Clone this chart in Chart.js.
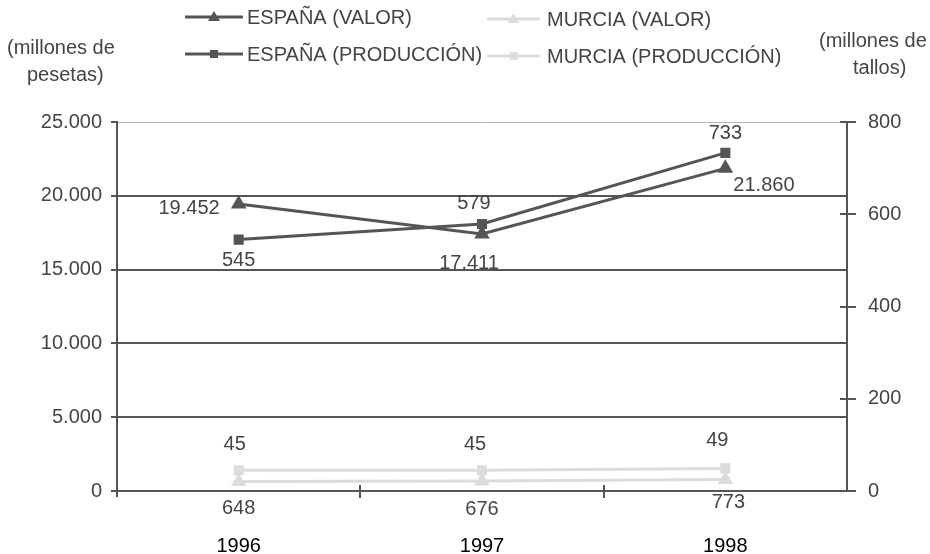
<!DOCTYPE html>
<html><head><meta charset="utf-8">
<script src="https://cdn.jsdelivr.net/npm/chart.js@4.4.0/dist/chart.umd.min.js"></script>
<style>html,body{margin:0;padding:0;background:#fff;}#wrap{width:930px;height:554px;position:relative;}</style>
</head><body><div id="wrap"><canvas id="c" width="930" height="554"></canvas></div>
<script>
const years = ['1996', '1997', '1998'];
const espanaValor = [19452, 17411, 21860];
const espanaProduccion = [545, 579, 733];
const murciaValor = [648, 676, 773];
const murciaProduccion = [45, 45, 49];
const leftTickValues = [0, 5000, 10000, 15000, 20000, 25000];
const rightTickValues = [0, 200, 400, 600, 800];
const seriesNames = ['ESPAÑA (VALOR)', 'ESPAÑA (PRODUCCIÓN)', 'MURCIA (VALOR)', 'MURCIA (PRODUCCIÓN)'];
const leftTitle = ['(millones de', 'pesetas)'];
const rightTitle = ['(millones de', 'tallos)'];

// label placement (dx, dy, align) per dataset/point — layout only
const labelPlacement = [
  [[-19, 3, 'right'], [-13, 28, 'center'], [8, 16, 'left']],
  [[0, 19, 'center'], [-8, -22, 'center'], [0, -21, 'center']],
  [[0, 26, 'center'], [0, 27, 'center'], [3, 21, 'center']],
  [[-4, -27, 'center'], [-7, -27, 'center'], [-8, -29, 'center']]
];

const FONT = "'Liberation Sans', Arial, sans-serif";
Chart.defaults.font.family = FONT;
Chart.defaults.font.size = 20;
Chart.defaults.color = '#444';

function fmt(v) { return String(v).replace(/\B(?=(\d{3})+(?!\d))/g, '.'); }

const DARK = '#555555';
const LIGHT = '#dcdcdc';

const extras = {
  id: 'extras',
  afterDraw(chart) {
    const ctx = chart.ctx;
    const ca = chart.chartArea;
    const x = chart.scales.x, y = chart.scales.y, y1 = chart.scales.y1;
    ctx.save();
    ctx.strokeStyle = DARK;
    ctx.lineWidth = 2;
    // left tick marks
    leftTickValues.forEach(v => {
      const py = Math.round(y.getPixelForValue(v));
      ctx.beginPath(); ctx.moveTo(ca.left - 6, py); ctx.lineTo(ca.left, py); ctx.stroke();
    });
    // right tick marks crossing
    rightTickValues.forEach(v => {
      const py = Math.round(y1.getPixelForValue(v));
      ctx.beginPath(); ctx.moveTo(ca.right - 7, py); ctx.lineTo(ca.right + 9, py); ctx.stroke();
    });
    // x tick marks between categories
    for (let i = 0; i < years.length - 1; i++) {
      const px = Math.round((x.getPixelForValue(i) + x.getPixelForValue(i + 1)) / 2);
      ctx.beginPath(); ctx.moveTo(px, ca.bottom - 6); ctx.lineTo(px, ca.bottom + 7); ctx.stroke();
    }
    ctx.beginPath(); ctx.moveTo(ca.left, ca.bottom - 4); ctx.lineTo(ca.left, ca.bottom + 6); ctx.stroke();

    // data labels
    ctx.font = '20px ' + FONT;
    ctx.fillStyle = '#444';
    ctx.textBaseline = 'alphabetic';
    chart.data.datasets.forEach((ds, di) => {
      const meta = chart.getDatasetMeta(di);
      meta.data.forEach((pt, i) => {
        const pl = labelPlacement[di][i];
        ctx.textAlign = pl[2];
        ctx.fillText(fmt(ds.data[i]), pt.x + pl[0], pt.y + pl[1] + 7);
      });
    });

    // axis titles
    ctx.textAlign = 'left';
    ctx.fillStyle = '#444';
    ctx.fillText(leftTitle[0], 7, 54);
    ctx.fillText(leftTitle[1], 27, 81);
    ctx.fillText(rightTitle[0], 819, 47);
    ctx.fillText(rightTitle[1], 853, 74);

    // legend
    const cols = [{x1: 185, x2: 243, tx: 247, ys: [17, 54]}, {x1: 487, x2: 540, tx: 547, ys: [19, 56]}];
    const order = [[0, 0, 0], [1, 0, 1], [2, 1, 0], [3, 1, 1]];
    order.forEach(([di, c, r]) => {
      const ds = chart.data.datasets[di];
      const col = cols[c];
      const ly = col.ys[r];
      ctx.strokeStyle = ds.borderColor;
      ctx.lineWidth = 3;
      ctx.beginPath(); ctx.moveTo(col.x1, ly); ctx.lineTo(col.x2, ly); ctx.stroke();
      const mx = (col.x1 + col.x2) / 2;
      ctx.fillStyle = ds.borderColor;
      if (ds.pointStyle === 'triangle') {
        ctx.beginPath(); ctx.moveTo(mx, ly - 6); ctx.lineTo(mx + 6, ly + 4); ctx.lineTo(mx - 6, ly + 4); ctx.closePath(); ctx.fill();
      } else {
        ctx.fillRect(mx - 4, ly - 4, 8, 8);
      }
      ctx.fillStyle = '#444';
      ctx.textAlign = 'left';
      ctx.fillText(seriesNames[di], col.tx, ly + 7);
    });
    ctx.restore();
  }
};

new Chart(document.getElementById('c'), {
  type: 'line',
  data: {
    labels: years,
    datasets: [
      {label: seriesNames[0], data: espanaValor, yAxisID: 'y', borderColor: DARK, backgroundColor: DARK,
       pointStyle: 'triangle', pointRadius: 6, borderWidth: 3, tension: 0},
      {label: seriesNames[1], data: espanaProduccion, yAxisID: 'y1', borderColor: DARK, backgroundColor: DARK,
       pointStyle: 'rect', pointRadius: 5, borderWidth: 3, tension: 0},
      {label: seriesNames[2], data: murciaValor, yAxisID: 'y', borderColor: LIGHT, backgroundColor: LIGHT,
       pointStyle: 'triangle', pointRadius: 6, borderWidth: 3, tension: 0},
      {label: seriesNames[3], data: murciaProduccion, yAxisID: 'y1', borderColor: LIGHT, backgroundColor: LIGHT,
       pointStyle: 'rect', pointRadius: 5, borderWidth: 3, tension: 0}
    ]
  },
  options: {
    responsive: false,
    animation: false,
    layout: {padding: {top: 122, left: 0, right: 0, bottom: 0}},
    plugins: {legend: {display: false}, tooltip: {enabled: false}, title: {display: false}},
    scales: {
      x: {
        type: 'category', offset: true,
        grid: {offset: true, drawOnChartArea: false, drawTicks: false},
        border: {color: DARK, width: 2},
        ticks: {color: '#000', font: {size: 20}, padding: 43, maxRotation: 0},
        afterFit: s => { s.height = 63; }
      },
      y: {
        position: 'left', min: 0, max: 25000,
        afterBuildTicks: s => { s.ticks = leftTickValues.map(v => ({value: v})); },
        ticks: {callback: v => fmt(v), color: '#444', padding: 15},
        grid: {drawTicks: false,
               color: c => (c.tick && c.tick.value === 25000) ? '#b4b4b4' : DARK,
               lineWidth: c => (c.tick && c.tick.value === 25000) ? 1 : 2},
        border: {color: DARK, width: 2},
        afterFit: s => { s.width = 117; }
      },
      y1: {
        position: 'right', min: 0, max: 800,
        afterBuildTicks: s => { s.ticks = rightTickValues.map(v => ({value: v})); },
        ticks: {color: '#444', padding: 21},
        grid: {drawOnChartArea: false, drawTicks: false},
        border: {color: DARK, width: 2},
        afterFit: s => { s.width = 83; }
      }
    }
  },
  plugins: [extras]
});
</script>
</body></html>
